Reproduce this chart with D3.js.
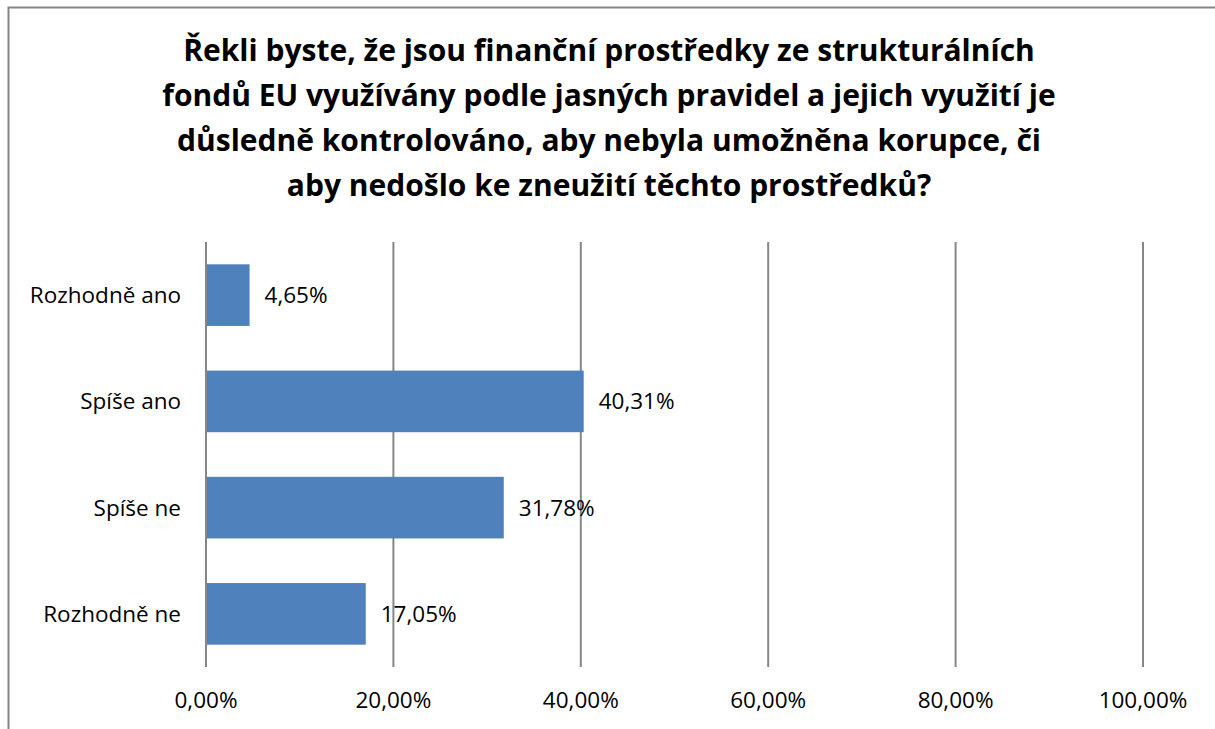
<!DOCTYPE html>
<html>
<head>
<meta charset="utf-8">
<script src="https://cdn.jsdelivr.net/npm/d3@7"></script>
<style>
body { margin: 0; background: #fff; }
svg text { font-family: "Open Sans", sans-serif; fill: #000; }
.grid line { stroke: #868686; stroke-width: 2; }
</style>
</head>
<body>
<svg width="1215" height="729"></svg>
<script>

var titleLines = [
	"Řekli byste, že jsou finanční prostředky ze strukturálních",
	"fondů EU využívány podle jasných pravidel a jejich využití je",
	"důsledně kontrolováno, aby nebyla umožněna korupce, či",
	"aby nedošlo ke zneužití těchto prostředků?"
];
var categories = ["Rozhodně ano", "Spíše ano", "Spíše ne", "Rozhodně ne"];
var values = [4.65, 40.31, 31.78, 17.05];
var ticks = [0, 20, 40, 60, 80, 100];

var svg = d3.select("svg");
var fmt = function(v) { return v.toFixed(2).replace(".", ",") + "%"; };

// chart border (runs off right/bottom like the original)
svg.append("rect")
	.attr("x", 8.5).attr("y", 7.5)
	.attr("width", 1230).attr("height", 740)
	.attr("fill", "none")
	.attr("stroke", "#868686")
	.attr("stroke-width", 2);

var x = d3.scaleLinear().domain([0, 100]).range([206, 1143]);
var y = d3.scaleBand().domain(categories).range([242, 667]).paddingInner(0.42).paddingOuter(0.21);

svg.append("g")
	.attr("class", "grid")
	.selectAll("line")
	.data(ticks)
	.enter().append("line")
	.attr("x1", function(d) { return x(d); })
	.attr("x2", function(d) { return x(d); })
	.attr("y1", 242)
	.attr("y2", 667);

svg.append("g")
	.selectAll("rect")
	.data(values)
	.enter().append("rect")
	.attr("x", x(0) + 1)
	.attr("y", function(d, i) { return y(categories[i]); })
	.attr("width", function(d) { return x(d) - x(0) - 1; })
	.attr("height", y.bandwidth())
	.attr("fill", "#4F81BD");

svg.append("g")
	.selectAll("text")
	.data(values)
	.enter().append("text")
	.attr("x", function(d) { return x(d) + 15; })
	.attr("y", function(d, i) { return y(categories[i]) + y.bandwidth() / 2; })
	.attr("dy", "0.35em")
	.attr("font-size", "22.5px")
	.text(fmt);

svg.append("g")
	.selectAll("text")
	.data(categories)
	.enter().append("text")
	.attr("x", 181)
	.attr("y", function(d) { return y(d) + y.bandwidth() / 2; })
	.attr("dy", "0.35em")
	.attr("text-anchor", "end")
	.attr("font-size", "22.5px")
	.text(function(d) { return d; });

svg.append("g")
	.selectAll("text")
	.data(ticks)
	.enter().append("text")
	.attr("x", function(d) { return x(d); })
	.attr("y", 700)
	.attr("dy", "0.35em")
	.attr("text-anchor", "middle")
	.attr("font-size", "22.5px")
	.text(fmt);

svg.append("g")
	.selectAll("text")
	.data(titleLines)
	.enter().append("text")
	.attr("x", 609)
	.attr("y", function(d, i) { return 50 + i * 45; })
	.attr("dy", "0.35em")
	.attr("text-anchor", "middle")
	.attr("font-size", "30px")
	.attr("font-weight", "bold")
	.text(function(d) { return d; });

</script>
</body>
</html>
